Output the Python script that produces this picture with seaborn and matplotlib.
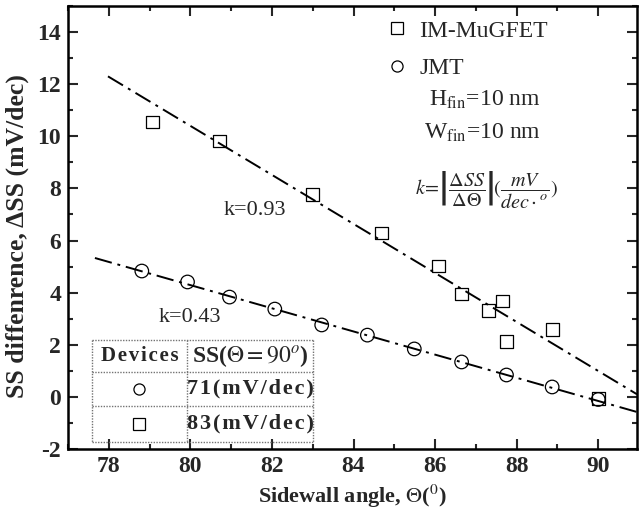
import numpy as np
import pandas as pd
import matplotlib
matplotlib.use("Agg")
import matplotlib.pyplot as plt
from matplotlib.lines import Line2D
import seaborn as sns

# ---- data ----
im_angle = [79.08, 80.72, 83.0, 84.69, 86.08, 86.65, 87.31, 87.65, 87.75, 88.87, 90.0]
im_dss = [10.55, 9.82, 7.78, 6.29, 5.02, 3.95, 3.33, 3.68, 2.11, 2.6, -0.05]
jmt_angle = [78.81, 79.93, 80.96, 82.07, 83.22, 84.34, 85.49, 86.65, 87.75, 88.87, 90.0]
jmt_dss = [4.83, 4.41, 3.83, 3.37, 2.76, 2.37, 1.84, 1.34, 0.84, 0.38, -0.1]
im_fit_x = [77.98, 90.95]
im_fit_y = [12.3, 0.1]
jmt_fit_x = [77.66, 90.95]
jmt_fit_y = [5.33, -0.58]
series_labels = ["IM-MuGFET", "JMT"]
k_labels = ["k=0.93", "k=0.43"]
x_ticks = [78, 80, 82, 84, 86, 88, 90]
y_ticks = [-2, 0, 2, 4, 6, 8, 10, 12, 14]
table_header = ["Devices", r"SS($\Theta=90^{o}$)"]
table_markers = ["o", "s"]
table_values = ["71(mV/dec)", "83(mV/dec)"]

sns.set_theme(style="ticks")
plt.rcParams["font.family"] = ["Liberation Serif", "DejaVu Serif"]
plt.rcParams["mathtext.fontset"] = "stix"
plt.rcParams["axes.unicode_minus"] = False

HS = "\u200a"


def spaced(s):
    return HS.join(list(s))


fig = plt.figure(figsize=(6.39, 5.11), dpi=100)
ax = fig.add_axes([68 / 639, 62 / 511, 569 / 639, 443 / 511])

dash = (0, (9, 3, 1.5, 3))
sns.lineplot(x=im_fit_x, y=im_fit_y, ax=ax, color="black", lw=1.4, linestyle=dash)
sns.lineplot(x=jmt_fit_x, y=jmt_fit_y, ax=ax, color="black", lw=1.4, linestyle=dash)

sns.scatterplot(x=im_angle, y=im_dss, ax=ax, marker="s", s=85,
                facecolor="none", edgecolor="black", linewidth=0.9, zorder=3)
sns.scatterplot(x=jmt_angle, y=jmt_dss, ax=ax, marker="o", s=95,
                facecolor="none", edgecolor="black", linewidth=0.9, zorder=3)

ax.set_xlim(77, 90.95)
ax.set_ylim(-2, 15)
ax.set_xticks(x_ticks)
ax.set_yticks(y_ticks)
ax.set_xticks(np.arange(77, 91, 1), minor=True)
ax.set_yticks(np.arange(-2, 16, 1), minor=True)
ax.tick_params(which="both", direction="in", top=True, right=True, width=1.5)
ax.tick_params(which="major", length=7, labelsize=17, pad=5)
ax.tick_params(which="minor", length=3.5)
for lab in ax.get_xticklabels() + ax.get_yticklabels():
    lab.set_fontweight("bold")
for s in ax.spines.values():
    s.set_linewidth(1.8)
    s.set_color("black")

ax.set_xlabel(r"Sidewall angle, $\Theta$($^{0}$)", fontsize=16, fontweight="bold", labelpad=4)
ax.set_ylabel("SS diffenrence, ΔSS (mV/dec)", fontsize=18.5, fontweight="bold")
ax.yaxis.set_label_coords(-0.068, 0.48)

ax.text(81.58, 7.15, k_labels[0], fontsize=16, ha="center", va="center")
ax.text(80.0, 3.05, k_labels[1], fontsize=16, ha="center", va="center")

handles = [Line2D([], [], marker="s", ls="none", mfc="none", mec="black", ms=8, mew=0.9),
           Line2D([], [], marker="o", ls="none", mfc="none", mec="black", ms=8, mew=0.9)]
ax.legend(handles, series_labels, loc="upper left", bbox_to_anchor=(0.557, 0.968),
          frameon=False, fontsize=17, handlelength=1.0, handletextpad=0.45,
          labelspacing=0.68, borderaxespad=0.0, borderpad=0.0)

ax.text(87.21, 11.39, r"H$_{\mathrm{fin}}$=10 nm", fontsize=17, ha="center", va="center")
ax.text(87.16, 10.13, r"W$_{\mathrm{fin}}$=10 nm", fontsize=17, ha="center", va="center")
ax.text(87.26, 7.95, r"$k\!=\!\left|\dfrac{\Delta SS}{\Delta\Theta}\right|\!(\dfrac{mV}{dec\cdot^{o}})$",
        fontsize=14.5, ha="center", va="center")

# inset table (axes coordinates)
xs = [0.042, 0.209, 0.431]
ys = [0.246, 0.174, 0.097, 0.016]
lk = dict(transform=ax.transAxes, color="0.45", lw=1.0, ls=(0, (1, 1)), zorder=4)
for yv in ys:
    ax.plot([xs[0], xs[2]], [yv, yv], **lk)
for xv in xs:
    ax.plot([xv, xv], [ys[0], ys[3]], **lk)
cx1 = (xs[0] + xs[1]) / 2
cx2 = (xs[1] + xs[2]) / 2
ax.text(cx1, (ys[0] + ys[1]) / 2, spaced(table_header[0]), transform=ax.transAxes,
        fontsize=15, fontweight="bold", ha="center", va="center")
ax.text(cx2, (ys[0] + ys[1]) / 2, table_header[1], transform=ax.transAxes,
        fontsize=17, fontweight="bold", ha="center", va="center")
for i, (m, v) in enumerate(zip(table_markers, table_values)):
    yc = (ys[i + 1] + ys[i + 2]) / 2
    ax.plot([cx1], [yc], marker=m, ms=8, mfc="none", mec="black", mew=0.9,
            transform=ax.transAxes, ls="none")
    ax.text(cx2, yc, spaced(v), transform=ax.transAxes, fontsize=16, fontweight="bold",
            ha="center", va="center")

fig.savefig("out.png", dpi=100)
